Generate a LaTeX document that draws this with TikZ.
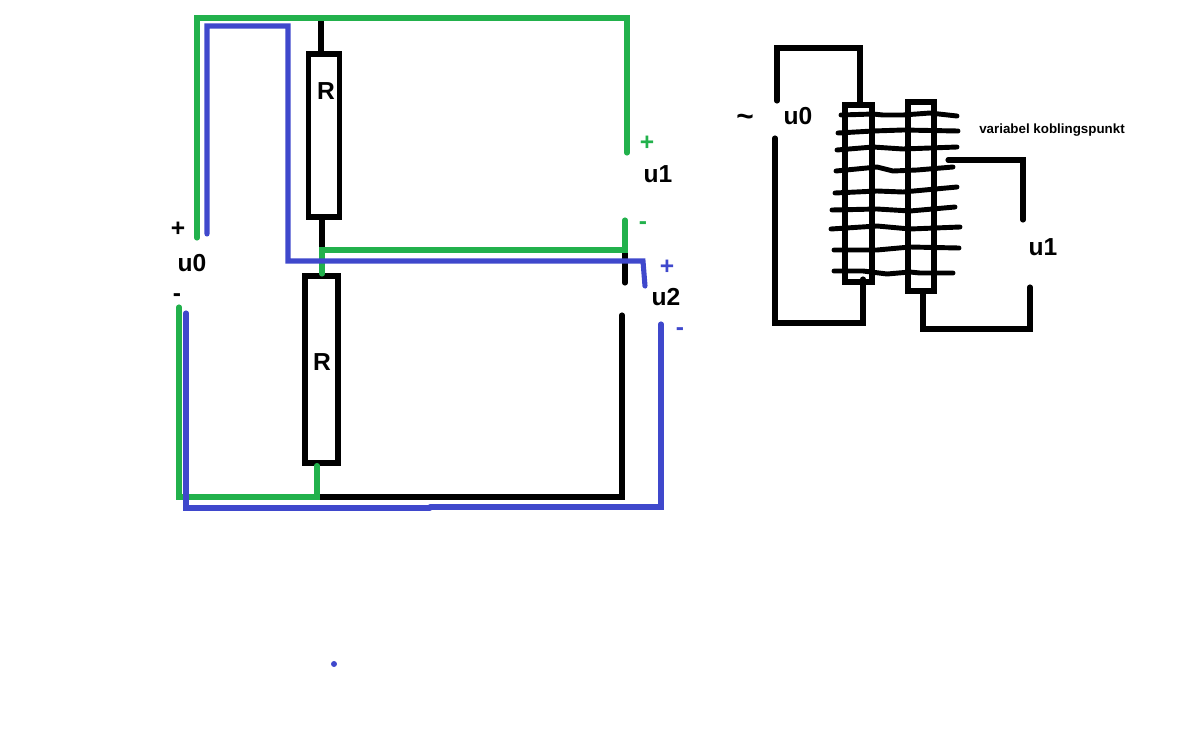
\documentclass[tikz,border=0pt]{standalone}
\usepackage{fontspec}
\setmainfont{Liberation Sans}
\definecolor{wiregreen}{HTML}{22B14C}
\definecolor{wireblue}{HTML}{3F48CC}
\begin{document}
\begin{tikzpicture}[x=0.02cm,y=-0.02cm,
  wire/.style={line width=2.9pt,line cap=round},
  greenwire/.style={wire,wiregreen},
  bluewire/.style={wire,wireblue},
  turn/.style={line width=2.8pt,line cap=round,line join=round},
  resistor/.style={draw,line width=2.9pt,inner sep=0pt},
  label/.style={font=\bfseries\fontsize{14}{14}\selectfont,inner sep=0pt},
  small/.style={font=\bfseries\fontsize{7.6}{7.6}\selectfont,inner sep=0pt}]
  \useasboundingbox (0,0) rectangle (1178,751);

  % resistors
  \node[resistor,minimum width=0.63cm,minimum height=3.26cm] (rtop) at (324,135.5) {};
  \node[resistor,minimum width=0.66cm,minimum height=3.74cm] (rbot) at (321.5,369.5) {};
  \node[label] (rtoplabel) at (326,91) {R};
  \node[label] (rbotlabel) at (322,362) {R};

  % points of the voltage divider
  \coordinate (gtopleft) at (197,18);
  \coordinate (gtopmid) at (321,18);
  \coordinate (gtopright) at (627,18);
  \coordinate (gu1plus) at (627,153);
  \coordinate (gu0plus) at (197,238);
  \coordinate (gu1minus) at (625,220);
  \coordinate (gmid) at (322,250);
  \coordinate (gmidright) at (625,250);
  \coordinate (gu0minus) at (179,307);
  \coordinate (gbotleft) at (179,497);
  \coordinate (gbotmid) at (317,497);
  \coordinate (ktop) at (321,54);
  \coordinate (kmidtop) at (322,217);
  \coordinate (kstub) at (625,283);
  \coordinate (kbotright) at (622,497);
  \coordinate (ku2) at (622,315);
  \coordinate (btopleft) at (207,26);
  \coordinate (btopright) at (288,26);
  \coordinate (bu0plus) at (207,234);
  \coordinate (bmid) at (288,261);
  \coordinate (bmidright) at (643,261);
  \coordinate (bu2plus) at (645,286);
  \coordinate (bu0minus) at (186,313);
  \coordinate (bbotleft) at (186,508);
  \coordinate (bbotmid) at (430,508);
  \coordinate (bbotmidb) at (430,507);
  \coordinate (bbotright) at (661,507);
  \coordinate (bu2minus) at (661,324);

  % black wires
  \draw[wire] (gtopmid) -- (ktop);
  \draw[wire] (kmidtop) -- (gmid);
  \draw[wire] (gmidright) -- (kstub);
  \draw[wire] (gbotmid) -- (kbotright) -- (ku2);

  % green wires
  \draw[greenwire] (gu0plus) -- (gtopleft) -- (gtopright) -- (gu1plus);
  \draw[greenwire] (gu1minus) -- (gmidright) -- (gmid) -- (322,274);
  \draw[greenwire] (gu0minus) -- (gbotleft) -- (gbotmid) -- (rbot.south -| gbotmid);

  % blue wires
  \draw[bluewire] (bu0plus) -- (btopleft) -- (btopright) -- (bmid) -- (bmidright) -- (bu2plus);
  \draw[bluewire] (bu0minus) -- (bbotleft) -- (bbotmid);
  \draw[bluewire] (bbotmidb) -- (bbotright) -- (bu2minus);

  \node[label,text=wiregreen] (u1plus) at (647,143) {+};
  \node[label] (u1left) at (658,174) {u1};
  \node[label,text=wiregreen] (u1minus) at (643,226) {-};
  \node[label,text=wireblue] (u2plus) at (667,267) {+};
  \node[label] (u2left) at (666,297) {u2};
  \node[label,text=wireblue] (u2minus) at (680,332) {-};
  \node[label] (u0plus) at (178,229) {+};
  \node[label] (u0left) at (192,263) {u0};
  \node[label] (u0minus) at (177,298) {-};
  \fill[wireblue] (334,664) circle (3);

  % transformer
  \draw[turn] (841,115) -- (873,114) -- (883,115) -- (903,115) -- (930,113) -- (957,116);
  \draw[turn] (838,133) -- (873,131) -- (903,130) -- (958,131);
  \draw[turn] (837,150) -- (873,147) -- (903,149) -- (957,147);
  \draw[turn] (836,171) -- (877,167) -- (893,171) -- (917,170) -- (953,167);
  \draw[turn] (835,193) -- (877,191) -- (903,192) -- (957,187);
  \draw[turn] (832,210) -- (877,209) -- (910,211) -- (955,207);
  \draw[turn] (831,229) -- (877,226) -- (910,229) -- (960,227);
  \draw[turn] (834,250) -- (877,250) -- (910,247) -- (959,248);
  \draw[turn] (834,271) -- (863,271) -- (887,274) -- (910,272) -- (920,273) -- (953,273);
  \node[resistor,minimum width=0.54cm,minimum height=3.54cm] (coilleft) at (858.5,193.5) {};
  \node[resistor,minimum width=0.52cm,minimum height=3.78cm] (coilright) at (921,196.5) {};

  \coordinate (ptopleft) at (777,48);
  \coordinate (ptopright) at (860,48);
  \coordinate (pstart) at (777,101);
  \coordinate (pend) at (775,138);
  \coordinate (pbotleft) at (775,323);
  \coordinate (pbotright) at (863,323);
  \coordinate (pfoot) at (863,279);
  \coordinate (stap) at (948,160);
  \coordinate (stapright) at (1023,160);
  \coordinate (stapend) at (1023,220);
  \coordinate (sbotleft) at (923,329);
  \coordinate (sbotright) at (1030,329);
  \coordinate (sbotend) at (1030,287);

  \draw[wire] (pstart) -- (ptopleft) -- (ptopright) -- (ptopright |- coilleft.north);
  \draw[wire] (pend) -- (pbotleft) -- (pbotright) -- (pfoot);
  \draw[wire] (stap) -- (stapright) -- (stapend);
  \draw[wire] (sbotleft |- coilright.south) -- (sbotleft) -- (sbotright) -- (sbotend);

  \node[label,font=\bfseries\fontsize{17}{17}\selectfont] (tilde) at (745,120) {\char"7E};
  \node[label] (primary) at (798,116) {u0};
  \node[label] (secondary) at (1043,247) {u1};
  \node[small] (tapnote) at (1052,130) {variabel koblingspunkt};
\end{tikzpicture}
\end{document}
